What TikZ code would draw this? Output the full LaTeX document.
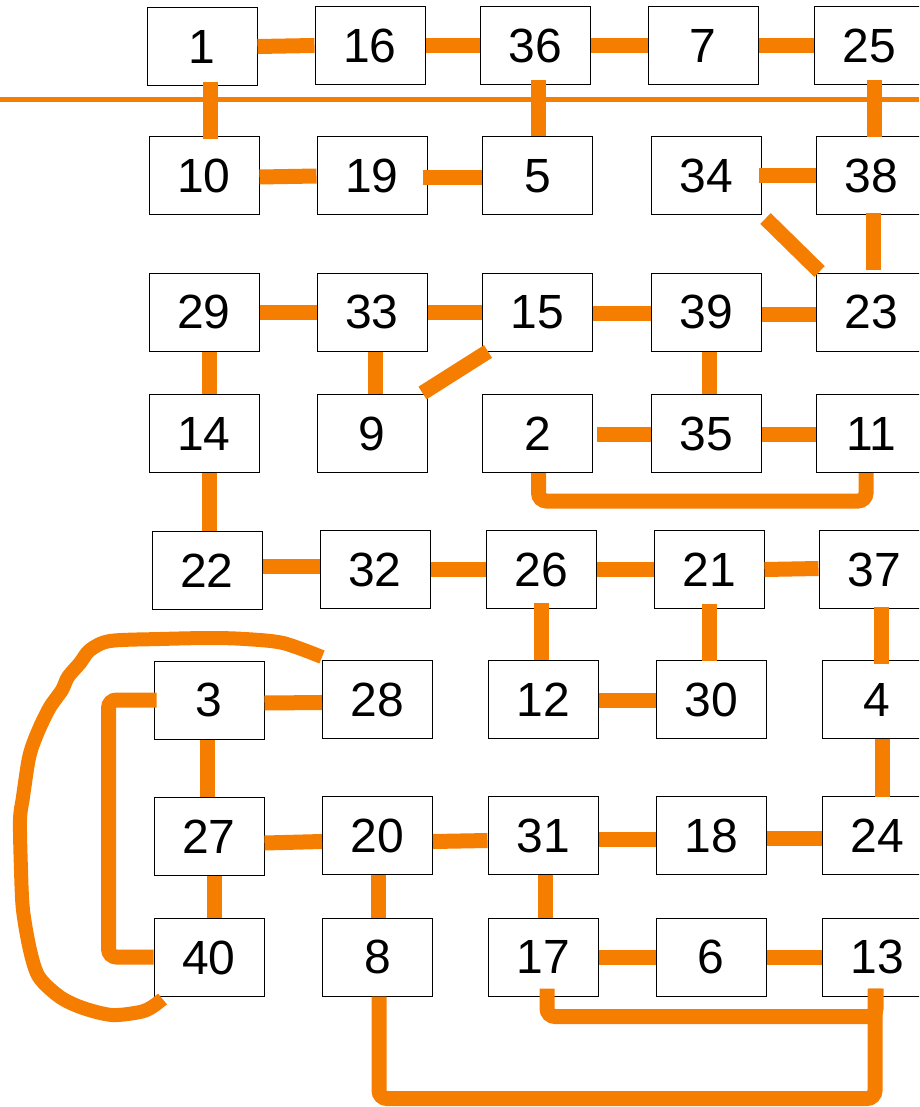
\documentclass[tikz,border=0pt]{standalone}
\usepackage{fontspec}
\setmainfont{Liberation Sans}
\definecolor{org}{RGB}{245,125,0}
\begin{document}
\begin{tikzpicture}[x=1pt,y=-1pt,
  box/.style={draw=black, line width=1pt, fill=white, minimum width=110pt,
    minimum height=78pt, inner sep=0pt, font=\fontsize{48}{50}\selectfont},
  link/.style={draw=org, line width=15pt},
  bendlink/.style={draw=org, line width=15pt, rounded corners=8pt},
  handlink/.style={draw=org, line width=14pt, line join=round},
  sepline/.style={draw=org, line width=5pt}]
\useasboundingbox (0,0) rectangle (919,1107);
\begin{scope}
\clip (0,0) rectangle (919,1107);
% separator
\coordinate (sl) at (0,99.5);
\coordinate (sr) at (919,99.5);
\draw[sepline] (sl) -- (sr);
% row 1
\node[box] (n1)  at (202,46.5) {1};
\node[box] (n16) at (370,45.5) {16};
\node[box] (n36) at (535,45.5) {36};
\node[box] (n7)  at (703,45.5) {7};
\node[box] (n25) at (869,45.5) {25};
% row 2
\node[box] (n10) at (204,176) {10};
\node[box] (n19) at (372,176) {19};
\node[box] (n5)  at (537.5,176) {5};
\node[box] (n34) at (706,176) {34};
\node[box] (n38) at (871,176) {38};
% row 3
\node[box] (n29) at (204,312) {29};
\node[box] (n33) at (372,312) {33};
\node[box] (n15) at (537.5,312) {15};
\node[box] (n39) at (706,312) {39};
\node[box] (n23) at (871,312) {23};
% row 4
\node[box] (n14) at (204,433.5) {14};
\node[box] (n9)  at (372,433.5) {9};
\node[box] (n2)  at (537.5,433.5) {2};
\node[box] (n35) at (706,433.5) {35};
\node[box] (n11) at (871,433.5) {11};
% row 5
\node[box] (n22) at (207,570.5) {22};
\node[box] (n32) at (375,569.5) {32};
\node[box] (n26) at (541,569.5) {26};
\node[box] (n21) at (709,569.5) {21};
\node[box] (n37) at (874,569.5) {37};
% row 6
\node[box] (n3)  at (209,700) {3};
\node[box] (n28) at (377.5,699.5) {28};
\node[box] (n12) at (543,699.5) {12};
\node[box] (n30) at (711,699.5) {30};
\node[box] (n4)  at (877,699.5) {4};
% row 7
\node[box] (n27) at (209,836.5) {27};
\node[box] (n20) at (377.5,835.5) {20};
\node[box] (n31) at (543,835.5) {31};
\node[box] (n18) at (711,835.5) {18};
\node[box] (n24) at (877,835.5) {24};
% row 8
\node[box] (n40) at (209,957.5) {40};
\node[box] (n8)  at (377.5,957) {8};
\node[box] (n17) at (543,957) {17};
\node[box] (n6)  at (711,957) {6};
\node[box] (n13) at (877,957) {13};

% horizontal links
\draw[link] (n1.east) -- (n16.west);
\draw[link] (n16.east) -- (n36.west);
\draw[link] (n36.east) -- (n7.west);
\draw[link] (n7.east) -- (n25.west);
\draw[link] ([yshift=-1pt]n10.east) -- (n19.west);
\draw[link] ([xshift=-5pt,yshift=-2pt]n19.east) -- ([yshift=-2pt]n5.west);
\draw[link] ([xshift=-3pt]n34.east) -- (n38.west);
\draw[link] (n29.east) -- (n33.west);
\draw[link] (n33.east) -- (n15.west);
\draw[link] ([yshift=-1pt]n15.east) -- ([yshift=-1pt]n39.west);
\draw[link] ([yshift=-2pt]n39.east) -- ([yshift=-2pt]n23.west);
\draw[link] ([xshift=4pt,yshift=-1pt]n2.east) -- ([yshift=-1pt]n35.west);
\draw[link] ([yshift=-1pt]n35.east) -- ([yshift=-1pt]n11.west);
\draw[link] ([yshift=4pt]n22.east) -- ([yshift=3pt]n32.west);
\draw[link] (n32.east) -- (n26.west);
\draw[link] (n26.east) -- (n21.west);
\draw[link] (n21.east) -- ([yshift=1pt]n37.west);
\draw[link] ([yshift=-3pt]n3.east) -- ([yshift=-3pt]n28.west);
\draw[link] ([yshift=-0.5pt]n12.east) -- ([yshift=-0.5pt]n30.west);
\draw[link] ([yshift=-6.5pt]n27.east) -- ([yshift=-6pt]n20.west);
\draw[link] ([yshift=-6pt]n20.east) -- ([yshift=-5pt]n31.west);
\draw[link] ([yshift=-4pt]n31.east) -- ([yshift=-4pt]n18.west);
\draw[link] ([yshift=-3pt]n18.east) -- ([yshift=-3pt]n24.west);
\draw[link] (n17.east) -- (n6.west);
\draw[link] (n6.east) -- (n13.west);

% vertical links
\draw[link] ([xshift=8pt,yshift=4pt]n1.south) -- ([xshift=6pt,yshift=-3pt]n10.north);
\draw[link] ([xshift=3.5pt,yshift=5pt]n36.south) -- ([xshift=1pt]n5.north);
\draw[link] ([xshift=5pt,yshift=5pt]n25.south) -- ([xshift=3pt,yshift=-1pt]n38.north);
\draw[link] ([xshift=2.5pt,yshift=2pt]n38.south) -- ([xshift=2.5pt,yshift=3pt]n23.north);
\draw[link] ([xshift=5.5pt]n29.south) -- ([xshift=5.5pt]n14.north);
\draw[link] ([xshift=3.5pt]n33.south) -- ([xshift=3.5pt]n9.north);
\draw[link] ([xshift=3pt]n39.south) -- ([xshift=3pt]n35.north);
\draw[link] ([xshift=5pt]n14.south) -- ([xshift=2pt]n22.north);
\draw[link] ([yshift=6pt]n26.south) -- ([xshift=-2pt]n12.north);
\draw[link] ([xshift=0.5pt,yshift=5pt]n21.south) -- ([xshift=-1.5pt,yshift=-1pt]n30.north);
\draw[link] ([xshift=7pt,yshift=2pt]n37.south) -- ([xshift=4pt,yshift=-4pt]n4.north);
\draw[link] ([xshift=-1.5pt]n3.south) -- ([xshift=-1.5pt]n27.north);
\draw[link] ([xshift=5pt]n4.south) -- ([xshift=5pt,yshift=-1pt]n24.north);
\draw[link] ([xshift=5pt]n27.south) -- ([xshift=5pt]n40.north);
\draw[link] ([xshift=0.5pt]n20.south) -- ([xshift=0.5pt]n8.north);
\draw[link] ([xshift=2pt]n31.south) -- ([xshift=2pt]n17.north);

% diagonal links
\draw[link] ([xshift=4pt,yshift=-3pt]n34.south east) -- ([xshift=4pt,yshift=1pt]n23.north west);
\draw[link] ([xshift=-5pt,yshift=1pt]n9.north east) -- ([xshift=6pt]n15.south west);

% bracket links
\draw[bendlink] ([xshift=1pt]n2.south) -- ++(0,28) -| ([xshift=-5pt]n11.south);
\draw[bendlink] ([xshift=3pt]n3.west) -- ++(-48,0) |- ([yshift=0.5pt]n40.west);
\draw[bendlink] ([xshift=4pt,yshift=8pt]n17.south) -- ++(0,28) -| ([xshift=-1pt,yshift=8pt]n13.south);
\draw[bendlink] ([xshift=1.5pt]n8.south) -- ++(0,102) -| ([xshift=-2pt,yshift=8pt]n13.south);

% hand-drawn loop
\draw[handlink] plot[smooth, tension=0.5] coordinates {
  ([yshift=3pt]n28.north west) (283,643) (245,639) (210,638) (160,639)
  (110,641) (90,650) (80,663) (68,677) (62,690) (50,707) (40,727)
  (32,747) (28,763) (23,797) (20,820) (21,870) (23,910) (30,950)
  (39,977) (60,997) (83,1008) (112,1015) (140,1012) (152,1007)
  ([xshift=9pt,yshift=-2pt]n40.south west)};
\end{scope}
\end{tikzpicture}
\end{document}
